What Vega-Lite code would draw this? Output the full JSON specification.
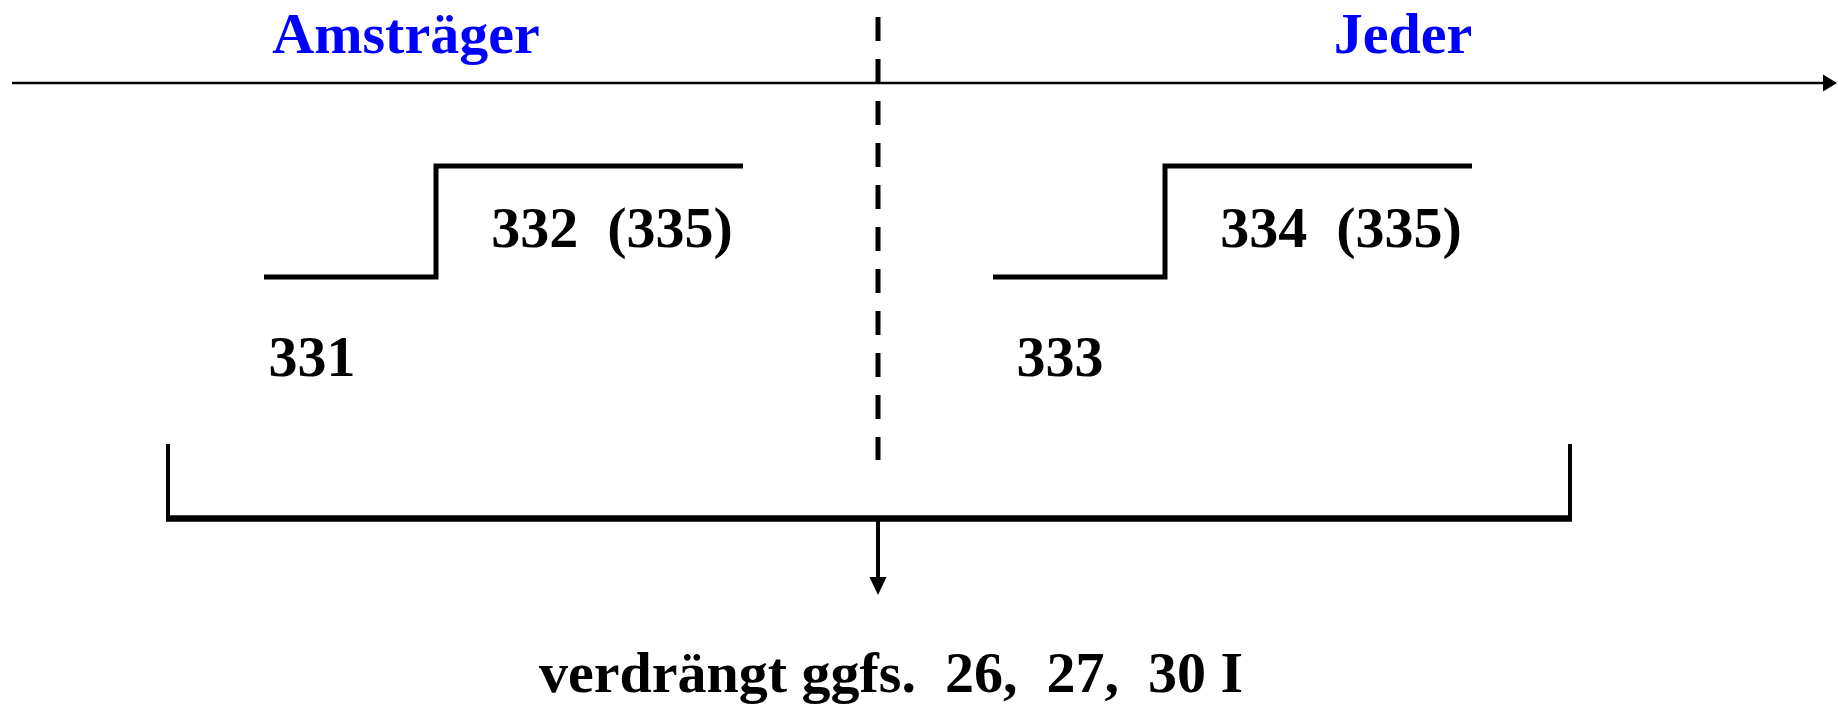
{
  "$schema": "https://vega.github.io/schema/vega-lite/v6.json",
  "width": 1838,
  "height": 709,
  "padding": 0,
  "autosize": {"type": "fit", "contains": "padding"},
  "background": "white",
  "config": {"view": {"stroke": null}},
  "datasets": {
    "rules": [
      {"id": "axis", "x": 12, "x2": 1826, "y": 83, "y2": 83},
      {"id": "dash", "x": 878, "x2": 878, "y": 17, "y2": 460},
      {"id": "bracketL", "x": 168, "x2": 168, "y": 444, "y2": 519},
      {"id": "bracketR", "x": 1570, "x2": 1570, "y": 444, "y2": 519},
      {"id": "bracketH", "x": 166, "x2": 1572, "y": 518.5, "y2": 518.5},
      {"id": "down", "x": 878, "x2": 878, "y": 519, "y2": 580}
    ],
    "steps": [
      {"seg": "left", "o": 1, "x": 264, "y": 277},
      {"seg": "left", "o": 2, "x": 436, "y": 277},
      {"seg": "left", "o": 3, "x": 436, "y": 166},
      {"seg": "left", "o": 4, "x": 743, "y": 166},
      {"seg": "right", "o": 1, "x": 993, "y": 277},
      {"seg": "right", "o": 2, "x": 1165, "y": 277},
      {"seg": "right", "o": 3, "x": 1165, "y": 166},
      {"seg": "right", "o": 4, "x": 1472, "y": 166}
    ],
    "heads": [
      {"dir": "right", "x": 1830, "y": 83},
      {"dir": "down", "x": 878, "y": 586}
    ],
    "labels": [
      {"kind": "title", "x": 406, "y": 53, "label": "Amsträger"},
      {"kind": "title", "x": 1403, "y": 53, "label": "Jeder"},
      {"kind": "label", "x": 612, "y": 247, "label": "332\u00a0\u00a0(335)"},
      {"kind": "label", "x": 1341, "y": 247, "label": "334\u00a0\u00a0(335)"},
      {"kind": "label", "x": 312, "y": 376, "label": "331"},
      {"kind": "label", "x": 1060, "y": 376, "label": "333"},
      {"kind": "label", "x": 891, "y": 692, "label": "verdrängt ggfs.\u00a0\u00a026,\u00a0\u00a027,\u00a0\u00a030 I"}
    ]
  },
  "encoding": {
    "x": {"field": "x", "type": "quantitative", "scale": {"domain": [0, 1838], "nice": false, "zero": false}, "axis": null},
    "y": {"field": "y", "type": "quantitative", "scale": {"domain": [709, 0], "nice": false, "zero": false}, "axis": null}
  },
  "layer": [
    {
      "data": {"name": "rules"},
      "transform": [{"filter": "datum.id === 'axis'"}],
      "mark": {"type": "rule", "color": "black", "strokeWidth": 2.5},
      "encoding": {"x2": {"field": "x2"}, "y2": {"field": "y2"}}
    },
    {
      "data": {"name": "rules"},
      "transform": [{"filter": "datum.id === 'dash'"}],
      "mark": {"type": "rule", "color": "black", "strokeWidth": 5, "strokeDash": [24, 18], "strokeCap": "butt"},
      "encoding": {"x2": {"field": "x2"}, "y2": {"field": "y2"}}
    },
    {
      "data": {"name": "rules"},
      "transform": [{"filter": "datum.id === 'bracketL' || datum.id === 'bracketR'"}],
      "mark": {"type": "rule", "color": "black", "strokeWidth": 4},
      "encoding": {"x2": {"field": "x2"}, "y2": {"field": "y2"}}
    },
    {
      "data": {"name": "rules"},
      "transform": [{"filter": "datum.id === 'bracketH'"}],
      "mark": {"type": "rule", "color": "black", "strokeWidth": 6.5},
      "encoding": {"x2": {"field": "x2"}, "y2": {"field": "y2"}}
    },
    {
      "data": {"name": "rules"},
      "transform": [{"filter": "datum.id === 'down'"}],
      "mark": {"type": "rule", "color": "black", "strokeWidth": 4},
      "encoding": {"x2": {"field": "x2"}, "y2": {"field": "y2"}}
    },
    {
      "data": {"name": "steps"},
      "mark": {"type": "line", "color": "black", "strokeWidth": 5, "strokeJoin": "miter", "strokeCap": "butt"},
      "encoding": {"detail": {"field": "seg"}, "order": {"field": "o", "type": "quantitative"}}
    },
    {
      "data": {"name": "heads"},
      "transform": [{"filter": "datum.dir === 'right'"}],
      "mark": {"type": "point", "filled": true, "color": "black", "opacity": 1, "size": 196, "shape": "M-1,-1.2L1,0L-1,1.2Z"}
    },
    {
      "data": {"name": "heads"},
      "transform": [{"filter": "datum.dir === 'down'"}],
      "mark": {"type": "point", "filled": true, "color": "black", "opacity": 1, "size": 324, "shape": "M-0.95,-1L0.95,-1L0,1Z"}
    },
    {
      "data": {"name": "labels"},
      "mark": {"type": "text", "font": "Liberation Serif", "fontWeight": "bold", "fontSize": 58, "align": "center", "baseline": "alphabetic"},
      "encoding": {
        "text": {"field": "label"},
        "color": {"field": "kind", "type": "nominal", "scale": {"domain": ["title", "label"], "range": ["#0000ff", "#000000"]}, "legend": null}
      }
    }
  ]
}
